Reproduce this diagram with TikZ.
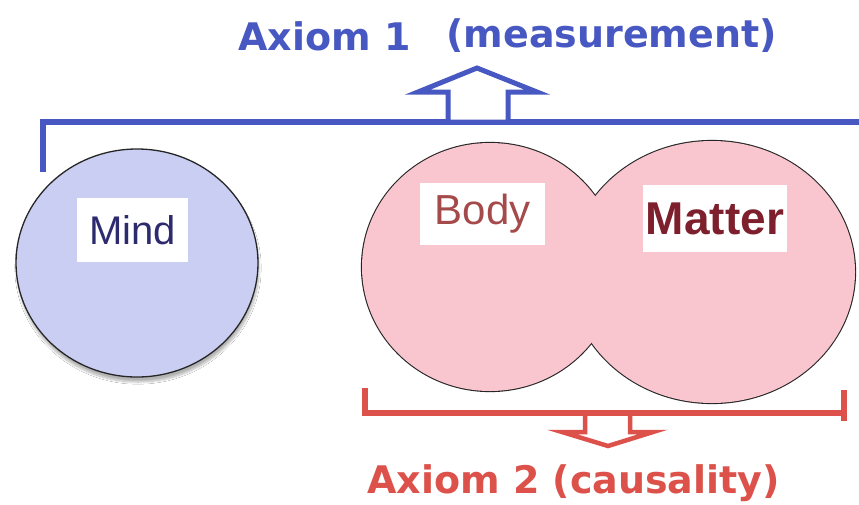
\documentclass[tikz,border=0pt]{standalone}
\usepackage{fontspec}
\setmainfont{Liberation Sans}
\newfontfamily\titlefont{DejaVu Sans}
\usetikzlibrary{shadows.blur}
\definecolor{axblue}{RGB}{72,88,194}
\definecolor{axred}{RGB}{220,82,74}
\definecolor{mindfill}{RGB}{201,206,242}
\definecolor{pinkfill}{RGB}{249,197,206}
\definecolor{mindtext}{RGB}{45,43,110}
\definecolor{bodytext}{RGB}{165,74,74}
\definecolor{mattertext}{RGB}{125,31,44}
\tikzset{
  title1/.style={font=\titlefont\bfseries\fontsize{38}{40}\selectfont, text=axblue, inner sep=0pt},
  title2/.style={font=\titlefont\bfseries\fontsize{38}{40}\selectfont, text=axred, inner sep=0pt},
  labelbox/.style={fill=white, inner sep=0pt, draw=none},
  bracketblue/.style={draw=axblue, line width=5.5pt},
  bracketred/.style={draw=axred, line width=5.5pt},
}
\begin{document}
\begin{tikzpicture}[x=1pt,y=-1pt]
\useasboundingbox (0,0) rectangle (859,504);
\fill[white] (0,0) rectangle (859,504);

% Mind circle
\fill[mindfill, blur shadow={shadow xshift=1pt, shadow yshift=-5pt, shadow opacity=30, shadow blur steps=12}] (137,263) ellipse [x radius=121, y radius=114];
\draw[black!85, line width=1.3pt] (137,263) ellipse [x radius=121, y radius=114];

% Body + Matter (union of two ellipses)
\draw[black!85, line width=2.2pt] (490,267) ellipse [x radius=128, y radius=124];
\draw[black!85, line width=2.2pt] (712,272) ellipse [x radius=143, y radius=131];
\fill[pinkfill] (490,267) ellipse [x radius=128, y radius=124];
\fill[pinkfill] (712,272) ellipse [x radius=143, y radius=131];

% labels
\node[labelbox, minimum width=111pt, minimum height=64pt, font=\fontsize{40}{41}\selectfont, text=mindtext] (mind) at (132.5,230) {Mind};
\node[labelbox, minimum width=125pt, minimum height=62pt, font=\fontsize{42}{43}\selectfont, text=bodytext] (body) at (482.5,214) {Body};
\node[labelbox, minimum width=144pt, minimum height=67pt, font=\bfseries\fontsize{46}{47}\selectfont, text=mattertext] (matter) at (715,218.5) {Matter};

% Blue bracket (Axiom 1)
\coordinate (b1) at (43,172);
\coordinate (b2) at (43,122);
\coordinate (b3) at (859,122);
\draw[bracketblue, line join=miter] (b1) -- (b2) -- (b3);
\coordinate (ua1) at (418,92);
\coordinate (ua2) at (477,68);
\coordinate (ua3) at (537,92);
\coordinate (ua4) at (508,92);
\coordinate (ua5) at (508,122);
\coordinate (ua6) at (448,122);
\coordinate (ua7) at (448,92);
\filldraw[fill=white, draw=axblue, line width=5pt, line join=miter] (ua1) -- (ua2) -- (ua3) -- (ua4) -- (ua5) -- (ua6) -- (ua7) -- cycle;

\node[title1, anchor=base west] (ax1) at (238,50) {Axiom 1};
\node[title1, anchor=base east] (meas) at (777,47) {(measurement)};

% Red bracket (Axiom 2)
\coordinate (r1) at (365,388);
\coordinate (r2) at (365,413);
\coordinate (r3) at (844,413);
\coordinate (r4) at (844,390);
\coordinate (r5) at (844,421);
\draw[bracketred] (r1) -- (365,416);
\draw[bracketred] (r2) -- (r3);
\draw[bracketred] (r4) -- (r5);
\coordinate (da1) at (585,413);
\coordinate (da2) at (585,432);
\coordinate (da3) at (562,432);
\coordinate (da4) at (608,446);
\coordinate (da5) at (653,432);
\coordinate (da6) at (630,432);
\coordinate (da7) at (630,413);
\draw[draw=axred, line width=4.5pt, line join=miter] (da1) -- (da2) -- (da3) -- (da4) -- (da5) -- (da6) -- (da7);

\node[title2, anchor=base west] (ax2) at (367,493) {Axiom 2 (causality)};
\end{tikzpicture}
\end{document}
